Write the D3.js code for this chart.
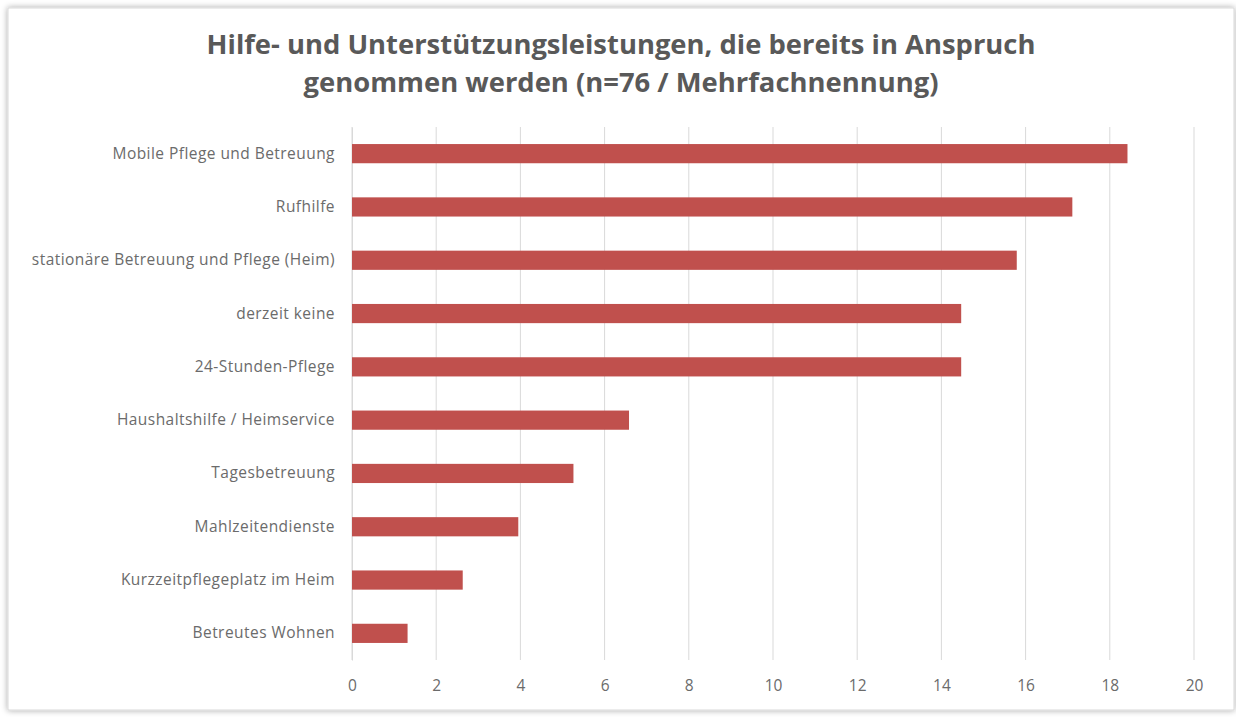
<!DOCTYPE html>
<html>
<head>
<meta charset="utf-8">
<script src="https://cdn.jsdelivr.net/npm/d3@7"></script>
<style>
  body { margin: 0; background: #fff; }
  svg { display: block; }
</style>
</head>
<body>
<div id="chart"></div>
<script>
// data: share of mentions in percent (n=76)
var categories = [
  "Mobile Pflege und Betreuung",
  "Rufhilfe",
  "stationäre Betreuung und Pflege (Heim)",
  "derzeit keine",
  "24-Stunden-Pflege",
  "Haushaltshilfe / Heimservice",
  "Tagesbetreuung",
  "Mahlzeitendienste",
  "Kurzzeitpflegeplatz im Heim",
  "Betreutes Wohnen"
];
var values = [18.42, 17.11, 15.79, 14.47, 14.47, 6.58, 5.26, 3.95, 2.63, 1.32];
var xTicks = [0, 2, 4, 6, 8, 10, 12, 14, 16, 18, 20];
var titleLines = [
  "Hilfe- und Unterstützungsleistungen, die bereits in Anspruch",
  "genommen werden (n=76 / Mehrfachnennung)"
];

var W = 1236, H = 717;
var margin = { top: 127, right: 42, bottom: 57, left: 352 };
var plotW = W - margin.left - margin.right;
var plotH = H - margin.top - margin.bottom;

var svg = d3.select("#chart").append("svg")
  .attr("width", W)
  .attr("height", H);

// shadow frame
var defs = svg.append("defs");
var f = defs.append("filter").attr("id", "shadow")
  .attr("x", "-5%").attr("y", "-5%").attr("width", "110%").attr("height", "110%");
f.append("feGaussianBlur").attr("in", "SourceAlpha").attr("stdDeviation", 3);
f.append("feComponentTransfer").append("feFuncA").attr("type", "linear").attr("slope", 0.35);
var m = f.append("feMerge");
m.append("feMergeNode");
m.append("feMergeNode").attr("in", "SourceGraphic");

svg.append("rect")
  .attr("x", 8).attr("y", 8)
  .attr("width", 1226).attr("height", 702)
  .attr("fill", "#fff")
  .attr("stroke", "#d9d9d9")
  .attr("filter", "url(#shadow)");

// title
svg.append("g").selectAll("text")
  .data(titleLines)
  .join("text")
  .attr("x", 621)
  .attr("y", function (d, i) { return 54 + i * 38; })
  .attr("text-anchor", "middle")
  .attr("font-family", "'Open Sans', sans-serif")
  .attr("font-weight", "bold")
  .attr("font-size", "27.4px")
  .attr("fill", "#595959")
  .text(function (d) { return d; });

var x = d3.scaleLinear().domain([0, 20]).range([0, plotW]);
var y = d3.scaleBand().domain(categories).range([0, plotH]).paddingInner(0.64).paddingOuter(0.32);

var g = svg.append("g")
  .attr("transform", "translate(" + margin.left + "," + margin.top + ")");

// gridlines
g.append("g")
  .selectAll("line")
  .data(xTicks)
  .join("line")
  .attr("x1", function (d) { return x(d); })
  .attr("x2", function (d) { return x(d); })
  .attr("y1", 0)
  .attr("y2", plotH)
  .attr("stroke", "#d9d9d9")
  .attr("stroke-width", 1);

// x axis labels
var xAxis = g.append("g")
  .attr("transform", "translate(0," + plotH + ")")
  .call(d3.axisBottom(x).tickValues(xTicks).tickSize(0).tickPadding(20));
xAxis.select(".domain").remove();
xAxis.selectAll("text")
  .attr("font-family", "'Open Sans', sans-serif")
  .attr("font-size", "15.5px")
  .attr("fill", "#6b6b6b");

// y axis labels
var yAxis = g.append("g")
  .call(d3.axisLeft(y).tickSize(0).tickPadding(17));
yAxis.select(".domain").attr("stroke", "#d9d9d9");
yAxis.selectAll("text")
  .attr("font-family", "'Open Sans', sans-serif")
  .attr("font-size", "15.5px")
  .attr("letter-spacing", "0.45px")
  .attr("fill", "#6b6b6b");

// bars
g.append("g")
  .selectAll("rect")
  .data(values)
  .join("rect")
  .attr("x", 0)
  .attr("y", function (d, i) { return y(categories[i]); })
  .attr("width", function (d) { return x(d); })
  .attr("height", y.bandwidth())
  .attr("fill", "#c0504d");
</script>
</body>
</html>
